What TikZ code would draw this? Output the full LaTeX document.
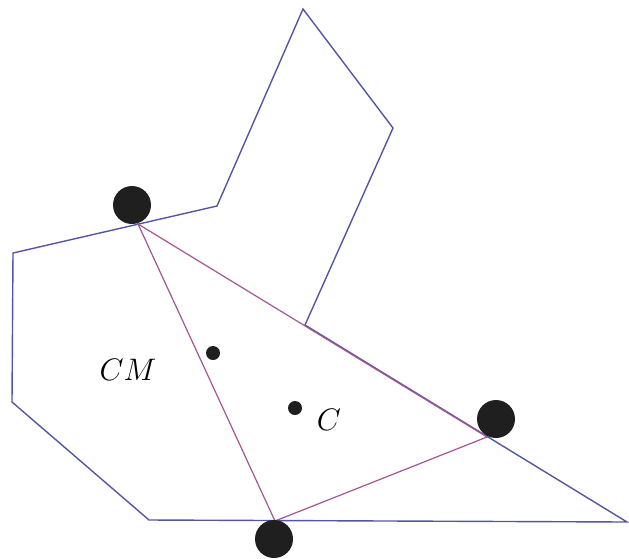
\documentclass[tikz,border=0pt]{standalone}
\begin{document}
\begin{tikzpicture}[x=1pt,y=-1pt,
  poly/.style={draw=polyblue,line width=1.4pt,line join=miter},
  tri/.style={draw=tripurple,line width=1.2pt},
  bigdot/.style={circle,fill=black!88,inner sep=0pt,minimum size=38pt},
  smalldot/.style={circle,fill=black!88,inner sep=0pt,minimum size=14pt},
  lab/.style={font=\Huge}]
\definecolor{polyblue}{RGB}{85,85,165}
\definecolor{tripurple}{RGB}{165,85,150}
\useasboundingbox (0,0) rectangle (629,558);
% polygon vertices
\coordinate (p1) at (303,9);
\coordinate (p2) at (393,128);
\coordinate (p3) at (305,325);
\coordinate (p4) at (627,522);
\coordinate (p5) at (149,520);
\coordinate (p6) at (12,402);
\coordinate (p7) at (13,253);
\coordinate (p8) at (217,206);
% triangle vertices (contact points)
\coordinate (ta) at (138,224);
\coordinate (tb) at (487,437);
\coordinate (tc) at (275,521);
\draw[poly] (p1) -- (p2) -- (p3) -- (p4) -- (p5) -- (p6) -- (p7) -- (p8) -- cycle;
\draw[tri] (ta) -- (tb) -- (tc) -- cycle;
\node[bigdot] (da) at (132,205) {};
\node[bigdot] (db) at (496,419) {};
\node[bigdot] (dc) at (274,539) {};
\node[smalldot] (cm) at (213,353) {};
\node[smalldot] (c) at (295,408) {};
\node[lab] (lcm) at (128,370) {\scalebox{1.25}{$CM$}};
\node[lab] (lc) at (329,420) {\scalebox{1.25}{$C$}};
\end{tikzpicture}
\end{document}
